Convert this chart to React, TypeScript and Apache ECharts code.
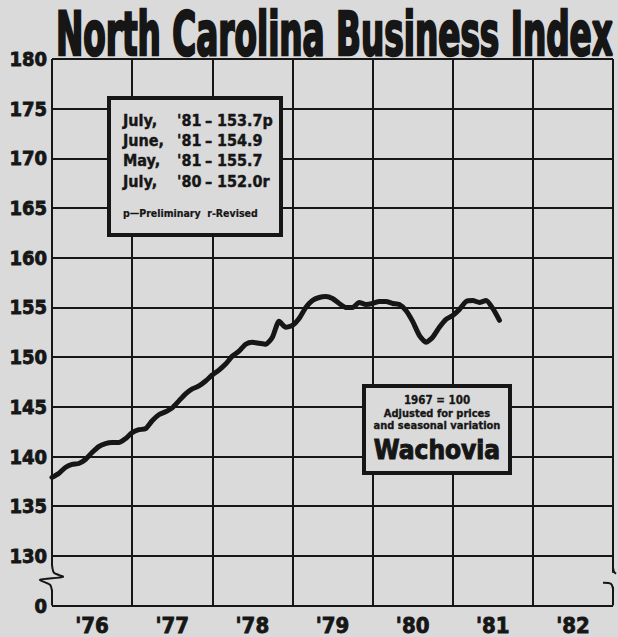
import React, { useEffect, useRef } from 'react';
import * as echarts from 'echarts';

// ---------- data ----------
const chartTitle = 'North Carolina Business Index';
const yearLabels = ["'76", "'77", "'78", "'79", "'80", "'81", "'82"];
const monthsPerYear = 12;
const yMin = 125; // shown as "0" below the axis break
const yMax = 180;
const yStep = 5;
const brokenAxisLabel = '0';
// Monthly index, Dec 1975 through Jul 1981 (one value per month)
const indexValues = [
  137.9, 138.3, 138.9, 139.2, 139.3, 139.7, 140.4, 141.0, 141.3, 141.4, 141.4, 141.8,
  142.4, 142.7, 142.8, 143.6, 144.2, 144.5, 144.9, 145.6, 146.3, 146.8, 147.1, 147.6,
  148.2, 148.7, 149.3, 150.1, 150.6, 151.3, 151.5, 151.4, 151.3, 152.0, 153.6, 153.0,
  153.2, 153.9, 155.0, 155.7, 156.0, 156.1, 155.9, 155.4, 155.0, 155.0, 155.5, 155.3,
  155.4, 155.6, 155.6, 155.4, 155.3, 154.7, 153.6, 152.2, 151.5, 152.0, 153.0, 153.8,
  154.2, 154.8, 155.6, 155.7, 155.5, 155.7, 154.9, 153.7,
];
const legendMonths = ['July,', 'June,', 'May,', 'July,'];
const legendYears = ["'81", "'81", "'81", "'80"];
const legendValues = ['153.7p', '154.9', '155.7', '152.0r'];
const legendNote = 'p—Preliminary  r-Revised';
const sourceLines = ['1967 = 100', 'Adjusted for prices', 'and seasonal variation'];
const sourceName = 'Wachovia';

// ---------- styles ----------
const INK = '#161616';
const PAPER = '#dadada';
const FONT = '"Liberation Sans Narrow", "DejaVu Sans Condensed", "Arial Narrow", sans-serif';

function measure(text: string, size: number): number {
  const c = document.createElement('canvas');
  const ctx = c.getContext('2d');
  if (!ctx) return text.length * size * 0.5;
  ctx.font = `bold ${size}px ${FONT}`;
  return ctx.measureText(text).width;
}

function txt(x: number, y: number, text: string, fontSize: number, extra: any = {}) {
  return {
    type: 'text',
    x,
    y,
    z: 20,
    style: {
      text,
      fontFamily: FONT,
      fontWeight: 'bold',
      fontSize,
      fill: INK,
      stroke: INK,
      lineWidth: extra.bolden ?? 0.4,
      align: extra.align || 'left',
      textAlign: extra.align || 'left',
      verticalAlign: 'middle',
      textVerticalAlign: 'middle',
    },
  };
}

export default function App() {
  const ref = useRef<HTMLDivElement>(null);
  useEffect(() => {
    if (!ref.current) return;
    const chart = echarts.init(ref.current, undefined, { renderer: 'svg' });
    const xMax = yearLabels.length * monthsPerYear;
    chart.setOption({
      animation: false,
      backgroundColor: PAPER,
      grid: { left: 52, right: 5, top: 59, bottom: 31, containLabel: false },
      xAxis: [
        {
          type: 'value',
          min: 0,
          max: xMax,
          interval: monthsPerYear,
          axisLine: { show: false },
          axisTick: { show: false },
          axisLabel: { show: false },
          splitLine: { show: true, lineStyle: { color: INK, width: 2 } },
        },
        {
          type: 'category',
          data: yearLabels,
          position: 'bottom',
          boundaryGap: true,
          axisLine: { show: false },
          axisTick: { show: false },
          splitLine: { show: false },
          axisLabel: {
            fontFamily: FONT,
            fontWeight: 'bold',
            fontSize: 22,
            color: INK,
            textBorderColor: INK,
            textBorderWidth: 0.8,
            margin: 9,
          },
        },
      ],
      yAxis: {
        type: 'value',
        min: yMin,
        max: yMax,
        interval: yStep,
        axisLine: { show: false },
        axisTick: { show: false },
        splitLine: { show: true, lineStyle: { color: INK, width: 2 } },
        axisLabel: {
          formatter: (v: number) => (v === yMin ? brokenAxisLabel : String(v)),
          fontFamily: FONT,
          fontWeight: 'bold',
          fontSize: 20,
          color: INK,
          textBorderColor: INK,
          textBorderWidth: 0.8,
          margin: 5,
        },
      },
      series: [
        {
          type: 'line',
          xAxisIndex: 0,
          yAxisIndex: 0,
          data: indexValues.map((v, i) => [i, v]),
          showSymbol: false,
          smooth: 0.2,
          lineStyle: { color: INK, width: 5, join: 'round', cap: 'round' },
          z: 5,
        },
      ],
    });

    const [L, yb] = chart.convertToPixel({ xAxisIndex: 0, yAxisIndex: 0 }, [0, 127.8]) as number[];
    const [R] = chart.convertToPixel({ xAxisIndex: 0, yAxisIndex: 0 }, [xMax, 127.8]) as number[];

    const titleSize = 60;
    const titleScale = 557 / measure(chartTitle, titleSize);

    const graphics: any[] = [
      // title
      {
        type: 'text',
        x: 56,
        y: 34,
        scaleX: titleScale,
        z: 20,
        style: {
          text: chartTitle,
          fontFamily: FONT,
          fontWeight: 'bold',
          fontSize: titleSize,
          fill: INK,
          stroke: INK,
          lineWidth: 2.5,
          align: 'left',
          textAlign: 'left',
          verticalAlign: 'middle',
          textVerticalAlign: 'middle',
        },
      },
      // axis breaks: erase and redraw
      { type: 'rect', z: 15, shape: { x: L - 4, y: yb - 12, width: 8, height: 24 }, style: { fill: PAPER } },
      {
        type: 'polyline',
        z: 16,
        shape: {
          points: [[L, yb - 13], [L + 2, yb - 5], [L + 11, yb - 1], [L - 12, yb + 2], [L - 2, yb + 7], [L, yb + 13]],
          smooth: 0.25,
        },
        style: { stroke: INK, lineWidth: 2, fill: 'none' },
      },
      { type: 'rect', z: 15, shape: { x: R - 4, y: yb - 5, width: 8, height: 14 }, style: { fill: PAPER } },
      {
        type: 'polyline',
        z: 16,
        shape: { points: [[R, yb - 10], [R + 1, yb - 6], [R + 3, yb - 4]], smooth: 0.3 },
        style: { stroke: INK, lineWidth: 2, fill: 'none' },
      },
      {
        type: 'polyline',
        z: 16,
        shape: { points: [[R - 10, yb + 5], [R - 2, yb + 6], [R, yb + 11], [R, yb + 14]], smooth: 0.3 },
        style: { stroke: INK, lineWidth: 2, fill: 'none' },
      },
      // legend box
      {
        type: 'rect',
        z: 18,
        shape: { x: 109, y: 98, width: 172, height: 137 },
        style: { fill: PAPER, stroke: INK, lineWidth: 4 },
      },
      // source box
      {
        type: 'rect',
        z: 18,
        shape: { x: 364, y: 386, width: 146, height: 87 },
        style: { fill: PAPER, stroke: INK, lineWidth: 4 },
      },
    ];

    const rowYs = [120, 140, 160, 181];
    legendMonths.forEach((m, i) => {
      graphics.push(txt(123, rowYs[i], m, 16));
      graphics.push(txt(177, rowYs[i], legendYears[i], 16));
      graphics.push(txt(205, rowYs[i], '–', 16));
      graphics.push(txt(217, rowYs[i], legendValues[i], 16));
    });
    graphics.push(txt(123, 213, legendNote, 10.5, { bolden: 0.2 }));

    const cx = 437;
    graphics.push(txt(cx, 400, sourceLines[0], 11.5, { align: 'center', bolden: 0.3 }));
    graphics.push(txt(cx, 413, sourceLines[1], 11, { align: 'center', bolden: 0.3 }));
    graphics.push(txt(cx, 425, sourceLines[2], 11, { align: 'center', bolden: 0.3 }));
    graphics.push(txt(cx, 450, sourceName, 26, { align: 'center', bolden: 1 }));

    chart.setOption({ graphic: graphics });

    return () => chart.dispose();
  }, []);

  return (
    <div
      ref={ref}
      style={{ position: 'fixed', left: 0, top: 0, width: 618, height: 637, background: PAPER }}
    />
  );
}
